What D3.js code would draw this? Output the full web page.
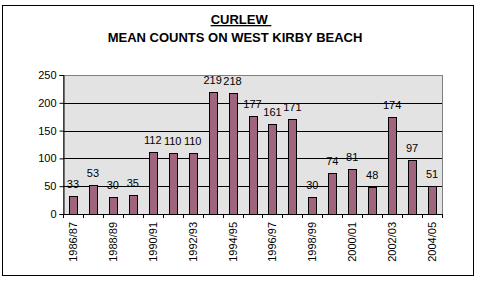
<!DOCTYPE html>
<html>
<head>
<meta charset="utf-8">
<script src="https://cdn.jsdelivr.net/npm/d3@7"></script>
<style>
  body { margin: 0; background: #fff; }
  svg { display: block; font-family: "Liberation Sans", Arial, sans-serif; }
</style>
</head>
<body>
<svg id="chart" width="482" height="282"></svg>
<script>
// season labels and mean counts
const seasons = ["1986/87","1987/88","1988/89","1989/90","1990/91","1991/92","1992/93",
  "1993/94","1994/95","1995/96","1996/97","1997/98","1998/99","1999/00","2000/01",
  "2001/02","2002/03","2003/04","2004/05"];
const counts = [33, 53, 30, 35, 112, 110, 110, 219, 218, 177, 161, 171, 30, 74, 81, 48, 174, 97, 51];
const yTicks = [0, 50, 100, 150, 200, 250];

const svg = d3.select('#chart');

// outer chart border
svg.append("rect")
  .attr("x", 2.5).attr("y", 5.5)
  .attr("width", 471).attr("height", 270)
  .attr("fill", "#fff")
  .attr("stroke", "#000")
  .attr("stroke-width", 1);

// titles
svg.append("text")
  .attr("x", 241).attr("y", 24)
  .attr("text-anchor", "middle")
  .style("font-size", "13px")
  .style("font-weight", "bold")
  .style("text-decoration", "underline")
  .text("CURLEW\u00a0");
svg.append("text")
  .attr("x", 235).attr("y", 42)
  .attr("text-anchor", "middle")
  .style("font-size", "13px")
  .style("font-weight", "bold")
  .text("MEAN COUNTS ON WEST KIRBY BEACH");

const pLeft = 63, pRight = 442, pTop = 75, pBottom = 214;

const x = d3.scaleBand()
  .domain(seasons)
  .range([pLeft, pRight])
  .paddingInner(0.6)
  .paddingOuter(0.3);

const xCat = d3.scaleBand().domain(seasons).range([pLeft, pRight]);

const y = d3.scaleLinear()
  .domain([0, 250])
  .range([pBottom, pTop]);

// plot area
svg.append("rect")
  .attr("x", pLeft + 0.5).attr("y", pTop + 0.5)
  .attr("width", pRight - pLeft).attr("height", pBottom - pTop)
  .attr("fill", "#e3e3e3")
  .attr("stroke", "#808080")
  .attr("stroke-width", 1);

// gridlines
svg.append("g")
  .selectAll("line")
  .data(yTicks.filter(d => d > 0 && d < 250))
  .join("line")
  .attr("x1", pLeft).attr("x2", pRight)
  .attr("y1", d => Math.round(y(d)) + 0.5)
  .attr("y2", d => Math.round(y(d)) + 0.5)
  .attr("stroke", "#000")
  .attr("stroke-width", 1);

// bars
svg.append("g")
  .selectAll("rect")
  .data(counts)
  .join("rect")
  .attr("x", (d, i) => Math.round(x(seasons[i])) + 0.5)
  .attr("y", d => Math.round(y(d)) + 0.5)
  .attr("width", Math.round(x.bandwidth()))
  .attr("height", d => pBottom - Math.round(y(d)))
  .attr("fill", "#a0647e")
  .attr("stroke", "#000")
  .attr("stroke-width", 1);

// value labels
svg.append("g")
  .selectAll("text")
  .data(counts)
  .join("text")
  .attr("x", (d, i) => x(seasons[i]) + x.bandwidth() / 2)
  .attr("y", d => y(d) - 8)
  .attr("text-anchor", "middle")
  .style("font-size", "11px")
  .style("fill", "#000")
  .text(d => d);

// y axis
const yAxis = svg.append("g")
  .attr("transform", `translate(${pLeft + 0.5},0)`)
  .call(d3.axisLeft(y).tickValues(yTicks).tickSize(4).tickPadding(3));
yAxis.select(".domain").attr("stroke", "#000");
yAxis.selectAll("text").style("font-size", "11px").style("font-family", "Liberation Sans, Arial, sans-serif");

// x axis: line + ticks at category boundaries
const xg = svg.append("g");
xg.append("line")
  .attr("x1", pLeft).attr("x2", pRight)
  .attr("y1", pBottom + 0.5).attr("y2", pBottom + 0.5)
  .attr("stroke", "#000");
xg.selectAll("line.tick")
  .data(seasons.concat(["end"]))
  .join("line")
  .attr("class", "tick")
  .attr("x1", (d, i) => Math.round(pLeft + i * xCat.bandwidth()) + 0.5)
  .attr("x2", (d, i) => Math.round(pLeft + i * xCat.bandwidth()) + 0.5)
  .attr("y1", pBottom).attr("y2", pBottom + 4)
  .attr("stroke", "#000");

xg.selectAll("text")
  .data(seasons.filter((d, i) => i % 2 === 0))
  .join("text")
  .attr("transform", d => `translate(${xCat(d) + xCat.bandwidth() / 2 + 4},${pBottom + 8}) rotate(-90)`)
  .attr("text-anchor", "end")
  .style("font-size", "11px")
  .text(d => d);
</script>
</body>
</html>
